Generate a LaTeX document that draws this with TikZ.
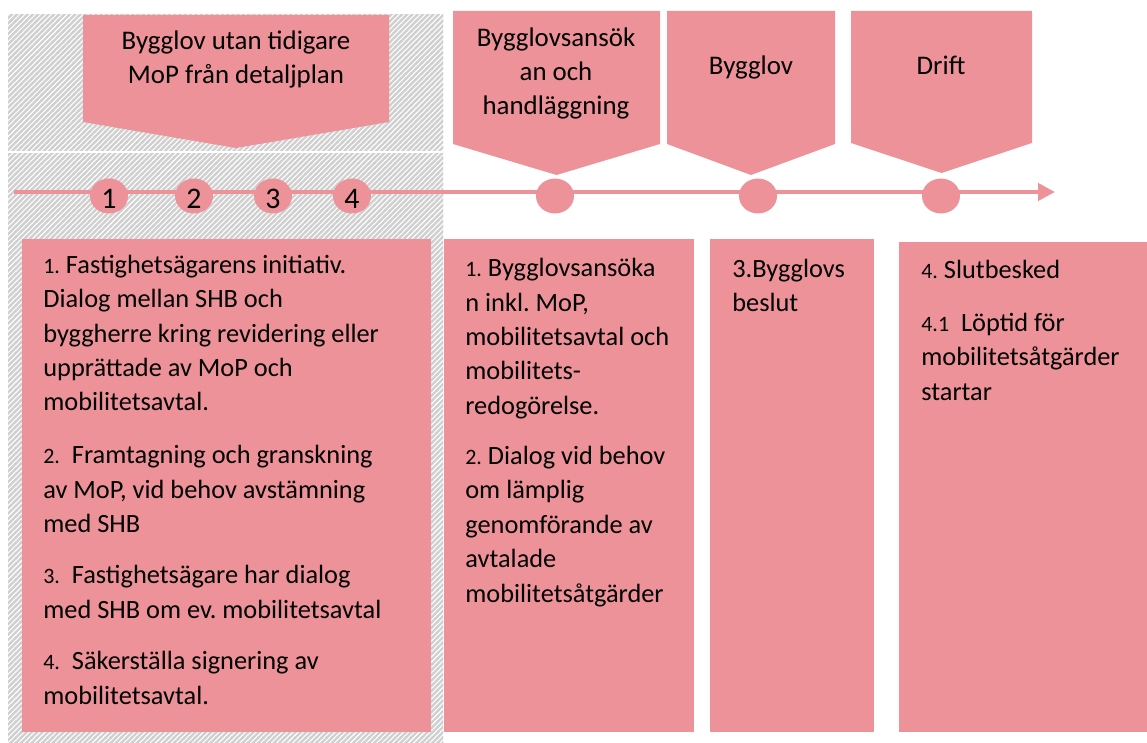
\documentclass[tikz,border=0pt]{standalone}
\usepackage{fontspec}
\setmainfont{Carlito}
\usepackage{tikz}
\usetikzlibrary{patterns}
\usetikzlibrary{shapes.geometric, arrows.meta}
\usetikzlibrary{positioning,calc}

\definecolor{rosefill}{RGB}{238,146,153}
\definecolor{hatchgrey}{RGB}{208,208,208}

\pgfdeclarepatternformonly{widestripes}{\pgfqpoint{-1pt}{-1pt}}{\pgfqpoint{4pt}{4pt}}{\pgfqpoint{3pt}{3pt}}{%
  \pgfsetlinewidth{1.3pt}
  \pgfpathmoveto{\pgfqpoint{-0.5pt}{-0.5pt}}
  \pgfpathlineto{\pgfqpoint{3.5pt}{3.5pt}}
  \pgfusepath{stroke}}

\def\px{0.02cm}
\newcommand{\itemno}[1]{{\fontsize{12.5}{19.6}\selectfont #1}}
\frenchspacing

\tikzset{
  phase/.style={fill=rosefill, draw=none},
  phasetext/.style={align=center, font=\fontsize{15.3}{19.6}\selectfont, inner sep=0pt, anchor=base},
  stepdot/.style={ellipse, fill=rosefill, minimum width=38*\px, minimum height=35*\px,
    inner sep=0pt, text height=14pt, text depth=0pt, font=\fontsize{17}{20}\selectfont},
  infobox/.style={align=left, font=\fontsize{15}{19.6}\selectfont, inner sep=0pt, anchor=base west},
  timeline/.style={rosefill, line width=2.8pt, -{Triangle[length=9.6pt, width=9.6pt]}}
}

\begin{document}
\begin{tikzpicture}[x=\px, y=-\px]
    \useasboundingbox (0,0) rectangle (1147,743);

    % hatched area for the first phase
    \fill[white] (8,15) rectangle (443,743);
    \fill[pattern=widestripes, pattern color=hatchgrey] (8,15) rectangle (443,743);
    \draw[white, line width=0.9pt] (8,152) -- (443,152);

    % phase arrows
    \foreach \xl/\xr/\yt/\ys/\yp in {83/389/15/122/148, 453/660/11/144/175, 667/835/11/144/175, 851/1032/11/143/173}
    {
        \fill[phase] (\xl,\yt) -- (\xr,\yt) -- (\xr,\ys) -- ({(\xl+\xr)/2},\yp) -- (\xl,\ys) -- cycle;
    }
    % anchor base = baseline of the last line
    \node[phasetext] (phase1) at (236,84) {Bygglov utan tidigare\\MoP från detaljplan};
    \node[phasetext] (phase2) at (556,115) {Bygglovsansök\\an och\\handläggning};
    \node[phasetext] (phase3) at (751,75) {Bygglov};
    \node[phasetext] (phase4) at (941,75) {Drift};

    % timeline
    \coordinate (tl start) at (14,192);
    \coordinate (tl end) at (1055,192);
    \draw[timeline] (tl start) -- (tl end);
    \foreach \x [count=\i] in {109,194,273,352}
        \node[stepdot] (step\i) at (\x,196) {\i};
    \foreach \x [count=\i from 5] in {555,758,941}
        \node[stepdot] (step\i) at (\x,196) {};

    % text boxes
    \fill[phase] (22,239) rectangle (431,732);
    \fill[phase] (444,239) rectangle (694,732);
    \fill[phase] (710,239) rectangle (874,732);
    \fill[phase] (899,242) rectangle (1147,732);

    \node[infobox] (box1) at (43,704) {\itemno{1.} Fastighetsägarens initiativ.\\
        Dialog mellan SHB och\\byggherre kring revidering eller\\upprättade av MoP och\\mobilitetsavtal.\\[10.5pt]
        \itemno{2.}\ \ Framtagning och granskning\\av MoP, vid behov avstämning\\med SHB\\[9.4pt]
        \itemno{3.}\ \ Fastighetsägare har dialog\\med SHB om ev. mobilitetsavtal\\[9.7pt]
        \itemno{4.}\ \ Säkerställa signering av\\mobilitetsavtal.};
    \node[infobox] (box2) at (465,602) {\itemno{1.} Bygglovsansöka\\n inkl. MoP,\\mobilitetsavtal och\\mobilitets-\\redogörelse.\\[8.8pt]
        \itemno{2.} Dialog vid behov\\om lämplig\\genomförande av\\avtalade\\mobilitetsåtgärder};
    \node[infobox] (box3) at (732,312) {3.Bygglovs\\beslut};
    \node[infobox] (box4) at (921,400) {\itemno{4.} Slutbesked\\[10.5pt]
        \itemno{4.1}\ \ Löptid för\\mobilitetsåtgärder\\startar};
\end{tikzpicture}
\end{document}
